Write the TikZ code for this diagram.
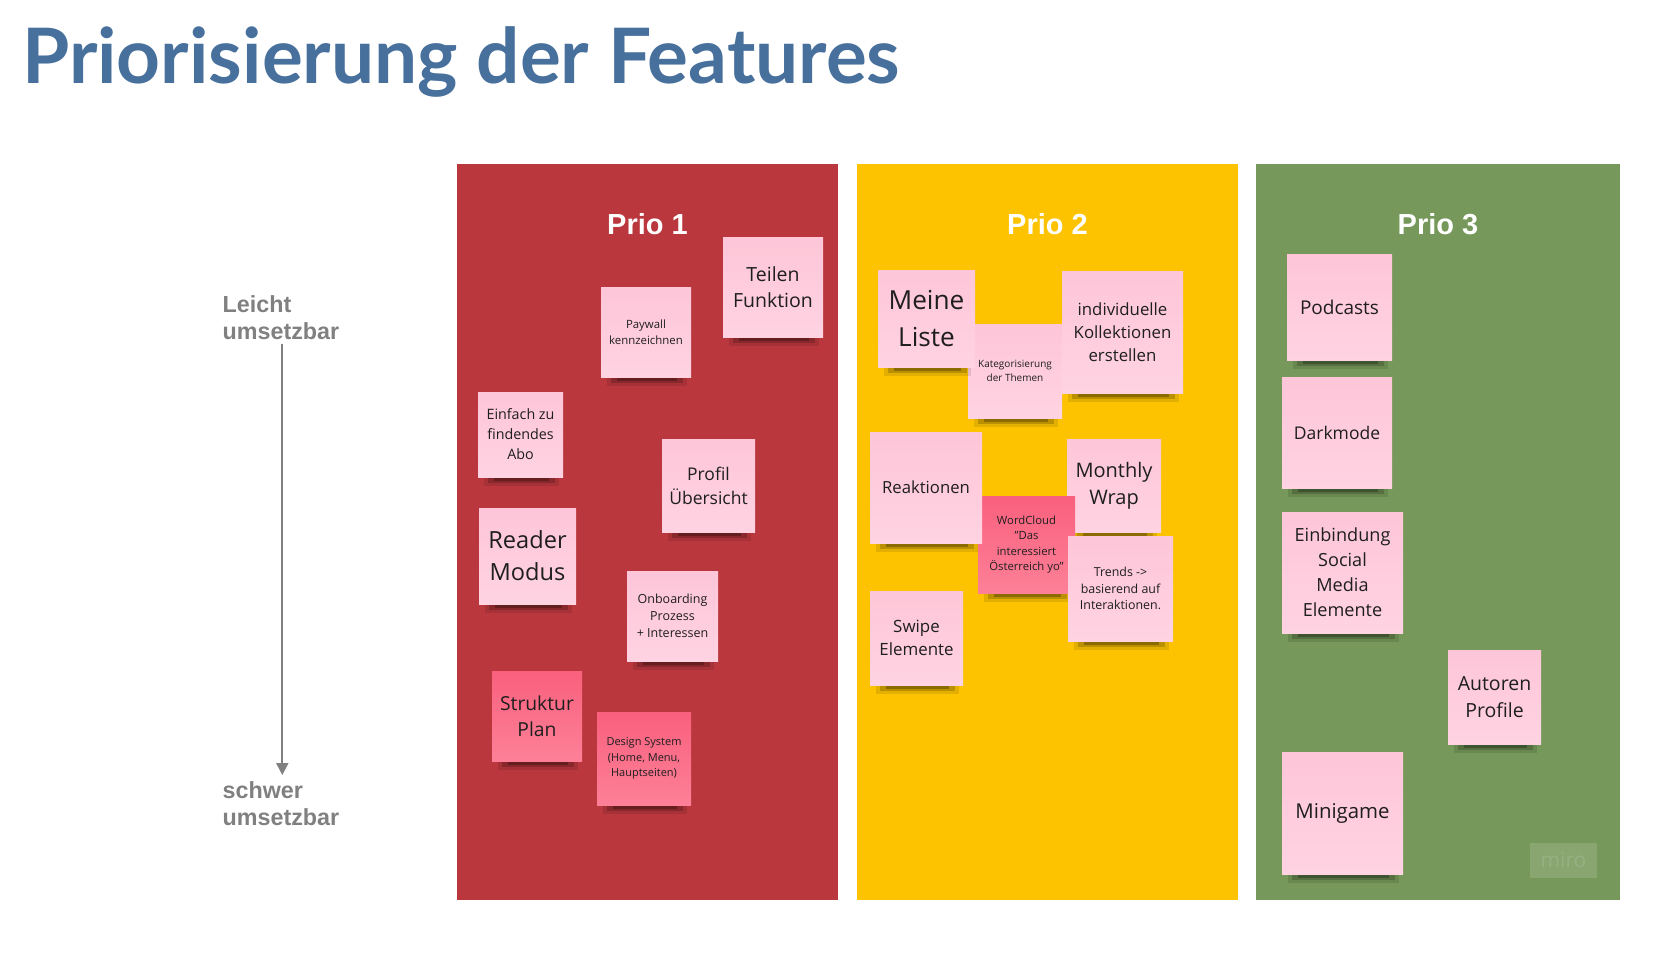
\documentclass[tikz,border=0pt]{standalone}
\usepackage{fontspec}
\setmainfont{Open Sans}
\newfontfamily\titlefont{Lato}
\newfontfamily\arialfont{Liberation Sans}
\usetikzlibrary{arrows.meta}
\definecolor{titleblue}{HTML}{48709C}
\definecolor{colred}{HTML}{B9373D}
\definecolor{colyellow}{HTML}{FDC300}
\definecolor{colgreen}{HTML}{76985A}
\definecolor{pinkA}{HTML}{FEC6D8}
\definecolor{pinkB}{HTML}{FFD3E2}
\definecolor{hotA}{HTML}{F9607D}
\definecolor{hotB}{HTML}{FD8098}
\definecolor{labelgray}{HTML}{808080}
\definecolor{notetext}{HTML}{1E1E1E}
\tikzset{
  lightnote/.style={top color=pinkA, bottom color=pinkB, inner sep=0pt, align=center, text=notetext},
  hotnote/.style={top color=hotA, bottom color=hotB, inner sep=0pt, align=center, text=notetext},
  priolabel/.style={font=\arialfont\bfseries\fontsize{29}{34}\selectfont, text=white, inner sep=0pt},
  sidelabel/.style={font=\arialfont\bfseries\fontsize{23.3}{26.6}\selectfont, text=labelgray, align=left, inner sep=0pt, anchor=north west},
}
% #1 name, #2 x1, #3 y1, #4 x2, #5 y2, #6 size, #7 skip, #8 style, #9 text
\newcommand\stickynote[9]{%
  \fill[black,opacity=0.10] ({#2+6},{#5-2}) rectangle ({#4-4},{#5+9});
  \fill[black,opacity=0.18] ({#2+10},{#5-2}) rectangle ({#4-8},{#5+6});
  \fill[black,opacity=0.25] ({#2+16},{#5-2}) rectangle ({#4-14},{#5+3.5});
  \node[#8, minimum width={#4-#2}, minimum height={#5-#3}, font=\fontsize{#6}{#7}\selectfont] (#1) at ({(#2+#4)/2},{(#3+#5)/2}) {#9};
}
\begin{document}
\begin{tikzpicture}[x=1pt,y=-1pt]
\useasboundingbox (0,0) rectangle (1680,959);
\fill[white] (0,0) rectangle (1680,959);

% title
\node[font=\titlefont\bfseries\fontsize{76.5}{84}\selectfont, text=titleblue, anchor=base west, inner sep=0pt] (title) at (22,83.5) {Priorisierung der Features};

% columns
\fill[colred] (457,164) rectangle (838,900);
\fill[colyellow] (857,164) rectangle (1238,900);
\fill[colgreen] (1256,164) rectangle (1620,900);
\node[priolabel] (p1) at (647.5,224) {Prio 1};
\node[priolabel] (p2) at (1047.5,224) {Prio 2};
\node[priolabel] (p3) at (1438,224) {Prio 3};

% side axis
\node[sidelabel] (easy) at (222.5,295.5) {Leicht\\umsetzbar};
\node[sidelabel] (hard) at (222.5,781.5) {schwer\\umsetzbar};
\coordinate (arrS) at (282.3,344);
\coordinate (arrE) at (282.3,775);
\draw[labelgray, line width=2pt, -{Triangle[length=12pt,width=12pt]}] (arrS) -- (arrE);

% Prio 1
\stickynote{teilen}{723}{237}{823}{337}{19.5}{25.5}{lightnote}{Teilen\\Funktion}
\stickynote{paywall}{601}{287}{691}{377}{11.4}{15.5}{lightnote}{Paywall\\kennzeichnen}
\stickynote{einfach}{478}{392}{563}{477}{14.3}{20}{lightnote}{Einfach zu\\findendes\\Abo}
\stickynote{profil}{662}{439}{755}{532}{17.5}{24}{lightnote}{Profil\\Übersicht}
\stickynote{reader}{479}{508}{576}{604}{23.6}{32}{lightnote}{Reader\\Modus}
\stickynote{onboard}{627}{571}{718}{661}{12.5}{17.3}{lightnote}{Onboarding\\Prozess\\+ Interessen}
\stickynote{struktur}{492}{671}{582}{761}{19.3}{26.5}{hotnote}{Struktur\\Plan}
\stickynote{design}{597}{712}{691}{805}{11}{15.3}{hotnote}{Design System\\(Home, Menu,\\Hauptseiten)}

% Prio 2
\stickynote{kateg}{968}{324}{1062}{418}{10}{14}{lightnote}{Kategorisierung\\der Themen}
\stickynote{meine}{878}{270}{975}{367}{26.2}{36.5}{lightnote}{Meine\\Liste}
\stickynote{indiv}{1062}{271}{1183}{393}{16.8}{23.3}{lightnote}{individuelle\\Kollektionen\\erstellen}
\stickynote{monthly}{1067}{439}{1161}{532}{20}{27}{lightnote}{Monthly\\Wrap}
\stickynote{wordcloud}{978}{496}{1075}{593}{11.3}{15.5}{hotnote}{WordCloud\\"Das\\interessiert\\Österreich yo"}
\stickynote{reakt}{870}{432}{982}{543}{16.7}{22}{lightnote}{Reaktionen}
\stickynote{trends}{1068}{536}{1173}{641}{12.4}{16.6}{lightnote}{Trends ->\\basierend auf\\Interaktionen.}
\stickynote{swipe}{870}{591}{963}{685}{16.9}{23.3}{lightnote}{Swipe\\Elemente}

% Prio 3
\stickynote{podcasts}{1287}{254}{1392}{360}{19}{25}{lightnote}{Podcasts}
\stickynote{darkmode}{1282}{377}{1392}{488}{17.5}{24}{lightnote}{Darkmode}
\stickynote{social}{1282}{512}{1403}{633}{18.1}{25}{lightnote}{Einbindung\\Social\\Media\\Elemente}
\stickynote{autoren}{1448}{650}{1541}{744}{19.5}{26.7}{lightnote}{Autoren\\Profile}
\stickynote{minigame}{1282}{752}{1403}{874}{20.4}{26}{lightnote}{Minigame}

% miro badge
\node[fill=white, fill opacity=0.14, text opacity=0.12, text=white, minimum width=67, minimum height=35, inner sep=0pt, font=\fontsize{21}{24}\selectfont] (miro) at (1563.5,860) {miro};
\end{tikzpicture}
\end{document}
